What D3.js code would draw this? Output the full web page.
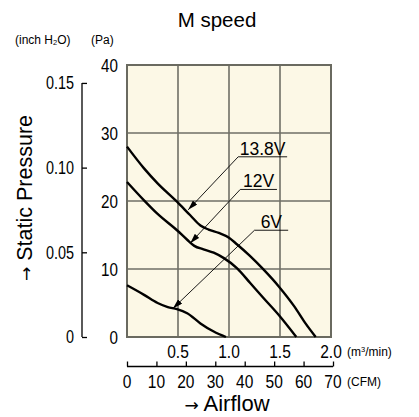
<!DOCTYPE html>
<html><head><meta charset="utf-8">
<script src="https://cdn.jsdelivr.net/npm/d3@7"></script>
<style>
html,body{margin:0;padding:0;background:#fff;}
svg{display:block;}
</style></head>
<body>
<svg id="c" width="419" height="417"></svg>
<script>
// ---- data ----
const flowTicks = [0.5, 1.0, 1.5, 2.0];          // m³/min
const paTicks = [0, 10, 20, 30, 40];             // Pa
const inchTicks = [0, 0.05, 0.10, 0.15];         // inch H2O
const cfmTicks = [0, 10, 20, 30, 40, 50, 60, 70];
const seriesNames = ["13.8V", "12V", "6V"];
const flow138 = [0, 0.167, 0.30, 0.49, 0.62, 0.72, 0.80, 0.90, 1.00, 1.08, 1.20, 1.34, 1.49, 1.64, 1.75, 1.85];
const pres138 = [28.0, 24.8, 22.6, 19.9, 17.9, 16.4, 15.8, 15.3, 14.6, 13.6, 12.0, 9.9, 7.4, 4.5, 2.0, 0];
const flow12 = [0, 0.167, 0.30, 0.49, 0.59, 0.66, 0.75, 0.85, 0.95, 1.08, 1.21, 1.34, 1.49, 1.66];
const pres12 = [22.8, 20.1, 18.1, 15.7, 14.3, 13.4, 12.9, 12.4, 11.6, 10.1, 7.9, 5.7, 3.2, 0];
const flow6 = [0, 0.167, 0.30, 0.40, 0.49, 0.59, 0.72, 0.85, 0.97];
const pres6 = [7.6, 6.2, 5.0, 4.4, 4.1, 3.5, 2.0, 0.8, 0];
// annotation: arrow tip (flow, pressure), label start (flow, pressure), underline end flow
const tipFlow = [0.60, 0.62, 0.45];
const tipPres = [18.7, 13.8, 4.2];
const labFlow = [1.09, 1.11, 1.25];
const labPres = [26.5, 21.7, 15.7];
const labEnd = [1.57, 1.47, 1.58];

const PA_PER_INCH = 249.09;

const svg = d3.select("#c");
const sans = "'Liberation Sans',Arial,Helvetica,sans-serif";
const arrowFont = "'DejaVu Sans',sans-serif";
const SX = 0.8; // horizontal condensing for tick numerals

const x = d3.scaleLinear().domain([0, 2]).range([127, 331]);
const y = d3.scaleLinear().domain([0, 40]).range([337, 65]);
const yIn = d3.scaleLinear().domain([0, 40 / PA_PER_INCH]).range([337, 65]);
const xCfm = d3.scaleLinear().domain([0, 70]).range([127, 333]);

// plot background
svg.append("rect").attr("x", x(0)).attr("y", y(40))
  .attr("width", x(2) - x(0)).attr("height", y(0) - y(40))
  .attr("fill", "#fcf8e6");

// grid
const g = svg.append("g");
g.selectAll("line.vx").data([0.5, 1.0, 1.5]).join("line")
  .attr("x1", d => x(d)).attr("x2", d => x(d)).attr("y1", y(0)).attr("y2", y(40))
  .attr("stroke", "#6f6f66").attr("stroke-width", 1.6);
g.selectAll("line.hy").data([10, 20, 30]).join("line")
  .attr("y1", d => y(d)).attr("y2", d => y(d)).attr("x1", x(0)).attr("x2", x(2))
  .attr("stroke", "#6f6f66").attr("stroke-width", 1.6);
svg.append("rect").attr("x", x(0)).attr("y", y(40))
  .attr("width", x(2) - x(0)).attr("height", y(0) - y(40))
  .attr("fill", "none").attr("stroke", "#6a6a60").attr("stroke-width", 2);

// Pa labels
svg.selectAll("text.pa").data(paTicks).join("text")
  .attr("transform", d => `translate(118,${y(d)}) scale(${SX},1)`).attr("dy", "0.36em")
  .attr("text-anchor", "end").attr("font-family", sans).attr("font-size", 19)
  .text(d => d);

// inch axis
const inchAxis = d3.axisRight(yIn).tickValues(inchTicks).tickSize(5).tickFormat("");
const ia = svg.append("g").attr("transform", "translate(82,0)").call(inchAxis);
ia.select(".domain").attr("d", `M0,${yIn(0)}V${yIn(0.15)}`).attr("stroke", "#000").attr("stroke-width", 1.3);
ia.selectAll(".tick line").attr("stroke", "#000").attr("stroke-width", 1.3);
svg.selectAll("text.inch").data(inchTicks).join("text")
  .attr("transform", d => `translate(74,${yIn(d)}) scale(${SX},1)`).attr("dy", "0.36em")
  .attr("text-anchor", "end").attr("font-family", sans).attr("font-size", 18)
  .text(d => d === 0 ? "0" : d.toFixed(2));

// unit labels top-left
const u = svg.append("text").attr("x", 15).attr("y", 44)
  .attr("font-family", sans).attr("font-size", 12);
u.append("tspan").text("(inch H");
u.append("tspan").attr("font-size", 7.5).attr("dy", 1).text("2");
u.append("tspan").attr("dy", -1).text("O)");
svg.append("text").attr("x", 91).attr("y", 44)
  .attr("font-family", sans).attr("font-size", 12).text("(Pa)");

// m³/min labels
svg.selectAll("text.fx").data(flowTicks).join("text")
  .attr("transform", d => `translate(${x(d)},357.5) scale(${SX + 0.04},1)`)
  .attr("text-anchor", "middle").attr("font-family", sans).attr("font-size", 18.5)
  .text(d => d.toFixed(1));
const mu = svg.append("text").attr("x", 347).attr("y", 356)
  .attr("font-family", sans).attr("font-size", 12);
mu.append("tspan").text("(m");
mu.append("tspan").attr("font-size", 7.5).attr("dy", -4).text("3");
mu.append("tspan").attr("dy", 4).text("/min)");

// CFM axis
const cfmAxis = d3.axisTop(xCfm).tickValues(cfmTicks).tickSize(5).tickFormat("");
const ca = svg.append("g").attr("transform", "translate(0,366.5)").call(cfmAxis);
ca.select(".domain").attr("d", `M${xCfm(0)},0H${xCfm(70)}`).attr("stroke", "#000").attr("stroke-width", 1.3);
ca.selectAll(".tick line").attr("stroke", "#000").attr("stroke-width", 1.3);
svg.selectAll("text.cfm").data(cfmTicks).join("text")
  .attr("transform", d => `translate(${xCfm(d)},387.5) scale(${SX + 0.04},1)`)
  .attr("text-anchor", "middle").attr("font-family", sans).attr("font-size", 18.5)
  .text(d => d);
svg.append("text").attr("x", 347).attr("y", 386)
  .attr("font-family", sans).attr("font-size", 12).text("(CFM)");

// titles
svg.append("text").attr("x", 217).attr("y", 27).attr("text-anchor", "middle")
  .attr("font-family", sans).attr("font-size", 20.5).text("M speed");
const xt = svg.append("text").attr("x", 227).attr("y", 411).attr("text-anchor", "middle")
  .attr("font-family", sans).attr("font-size", 22);
xt.append("tspan").attr("font-family", arrowFont).attr("font-size", 17).text("→");
xt.append("tspan").text(" Airflow");
const yt = svg.append("text").attr("transform", "translate(32,198) rotate(-90)")
  .attr("text-anchor", "middle")
  .attr("font-family", sans).attr("font-size", 21.5);
yt.append("tspan").attr("font-family", arrowFont).attr("font-size", 17).text("→");
yt.append("tspan").text(" Static Pressure");

// curves
const series = [
  flow138.map((f, i) => [f, pres138[i]]),
  flow12.map((f, i) => [f, pres12[i]]),
  flow6.map((f, i) => [f, pres6[i]])
];
const line = d3.line().x(d => x(d[0])).y(d => y(d[1])).curve(d3.curveMonotoneX);
svg.selectAll("path.s").data(series).join("path")
  .attr("d", line).attr("fill", "none").attr("stroke", "#000")
  .attr("stroke-width", 2.4).attr("stroke-linejoin", "round");

// annotations
svg.append("defs").append("marker").attr("id", "ah")
  .attr("viewBox", "0 0 10 6").attr("refX", 10).attr("refY", 3)
  .attr("markerWidth", 10).attr("markerHeight", 6).attr("markerUnits", "userSpaceOnUse")
  .attr("orient", "auto")
  .append("path").attr("d", "M0,0L10,3L0,6Z").attr("fill", "#000");

seriesNames.forEach((name, i) => {
  svg.append("line")
    .attr("x1", x(labFlow[i])).attr("y1", y(labPres[i]))
    .attr("x2", x(tipFlow[i])).attr("y2", y(tipPres[i]))
    .attr("stroke", "#000").attr("stroke-width", 0.9).attr("marker-end", "url(#ah)");
  svg.append("line")
    .attr("x1", x(labFlow[i])).attr("y1", y(labPres[i]))
    .attr("x2", x(labEnd[i])).attr("y2", y(labPres[i]))
    .attr("stroke", "#000").attr("stroke-width", 0.9);
  const cx = (x(labFlow[i]) + x(labEnd[i])) / 2;
  svg.append("text").attr("x", cx).attr("y", y(labPres[i]) - 2)
    .attr("text-anchor", "middle").attr("font-family", sans).attr("font-size", 17.5)
    .text(name);
});
</script>
</body></html>
